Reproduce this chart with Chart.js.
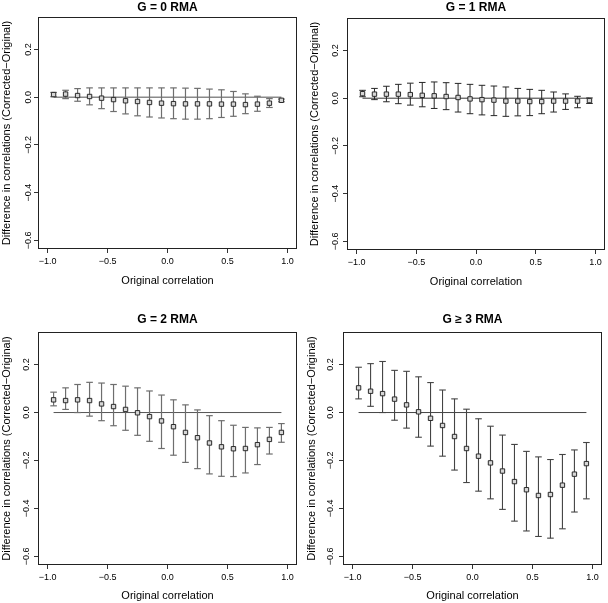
<!DOCTYPE html>
<html><head><meta charset="utf-8">
<script src="https://cdn.jsdelivr.net/npm/chart.js@4.4.1/dist/chart.umd.min.js"></script>
<style>
html,body{margin:0;padding:0;background:#fff;}
#wrap{position:relative;width:608px;height:603px;overflow:hidden;background:#fff;}
canvas{position:absolute;}
</style></head><body>
<div id="wrap">
<canvas id="c0" width="304" height="300" style="left:0px;top:0px"></canvas>
<canvas id="c1" width="304" height="300" style="left:304px;top:0px"></canvas>
<canvas id="c2" width="304" height="303" style="left:0px;top:300px"></canvas>
<canvas id="c3" width="304" height="303" style="left:304px;top:300px"></canvas>
</div>
<script>
// ---- data ----
const originalCorrelation = [-0.95,-0.85,-0.75,-0.65,-0.55,-0.45,-0.35,-0.25,-0.15,-0.05,0.05,0.15,0.25,0.35,0.45,0.55,0.65,0.75,0.85,0.95];
const xTickValues = [-1.0,-0.5,0.0,0.5,1.0];
const yTickValues = [-0.6,-0.4,-0.2,0.0,0.2];
const panelTitles = ["G = 0 RMA","G = 1 RMA","G = 2 RMA","G \u2265 3 RMA"];
const xAxisTitle = "Original correlation";
const yAxisTitle = "Difference in correlations (Corrected\u2212Original)";

const g0Mean  = [0.011,0.013,0.007,0.003,-0.004,-0.010,-0.015,-0.018,-0.022,-0.025,-0.027,-0.028,-0.028,-0.028,-0.029,-0.029,-0.031,-0.029,-0.025,-0.013];
const g0Upper = [0.020,0.029,0.036,0.039,0.039,0.039,0.039,0.039,0.039,0.039,0.039,0.038,0.037,0.034,0.031,0.024,0.014,0.004,-0.006,-0.008];
const g0Lower = [0.002,-0.006,-0.017,-0.032,-0.048,-0.060,-0.070,-0.078,-0.083,-0.087,-0.090,-0.092,-0.092,-0.090,-0.085,-0.080,-0.069,-0.059,-0.043,-0.019];

const g1Mean  = [0.019,0.017,0.017,0.017,0.015,0.012,0.010,0.007,0.003,-0.003,-0.006,-0.008,-0.012,-0.012,-0.014,-0.014,-0.012,-0.012,-0.012,-0.010];
const g1Upper = [0.033,0.041,0.050,0.058,0.063,0.066,0.068,0.065,0.062,0.058,0.054,0.051,0.047,0.041,0.037,0.033,0.026,0.018,0.008,0.001];
const g1Lower = [0.006,-0.006,-0.015,-0.023,-0.029,-0.036,-0.043,-0.048,-0.058,-0.065,-0.070,-0.073,-0.076,-0.074,-0.073,-0.065,-0.058,-0.047,-0.040,-0.022];

const g2Mean  = [0.053,0.050,0.053,0.050,0.036,0.025,0.013,-0.001,-0.017,-0.035,-0.059,-0.083,-0.105,-0.127,-0.143,-0.151,-0.150,-0.134,-0.112,-0.083];
const g2Upper = [0.085,0.103,0.117,0.126,0.123,0.117,0.110,0.103,0.090,0.073,0.053,0.032,0.011,-0.013,-0.034,-0.053,-0.062,-0.064,-0.062,-0.046];
const g2Lower = [0.028,0.013,0.000,-0.015,-0.034,-0.055,-0.074,-0.095,-0.120,-0.150,-0.178,-0.208,-0.234,-0.256,-0.266,-0.267,-0.252,-0.217,-0.173,-0.124];

const g3Mean  = [0.103,0.089,0.079,0.056,0.032,0.003,-0.024,-0.054,-0.100,-0.150,-0.182,-0.210,-0.244,-0.288,-0.322,-0.346,-0.342,-0.303,-0.257,-0.213];
const g3Upper = [0.189,0.204,0.213,0.176,0.172,0.149,0.125,0.094,0.057,0.014,-0.026,-0.057,-0.094,-0.133,-0.162,-0.185,-0.196,-0.175,-0.156,-0.125];
const g3Lower = [0.057,0.026,0.000,-0.032,-0.065,-0.103,-0.140,-0.182,-0.240,-0.292,-0.328,-0.360,-0.404,-0.453,-0.494,-0.517,-0.524,-0.485,-0.415,-0.360];

// ---- layout / style per panel ----
const FONT = "'Liberation Sans', Arial, Helvetica, sans-serif";
const panels = [
  {id:'c0', title:panelTitles[0], mean:g0Mean, lo:g0Lower, hi:g0Upper,
   w:304, h:300, area:{l:38,t:17,r:297,b:249}, titleTop:0, yTitlePad:0.4, xTitlePad:12.4, yLabelX:29,
   barColor:'#6e6e6e', barWidth:1.2, zeroColor:'#8a8a8a', zeroWidth:1.5},
  {id:'c1', title:panelTitles[1], mean:g1Mean, lo:g1Lower, hi:g1Upper,
   w:304, h:300, area:{l:43,t:18,r:301,b:250}, titleTop:0, yTitlePad:3.9, xTitlePad:11.4, yLabelX:32,
   barColor:'#262626', barWidth:1.0, zeroColor:'#333333', zeroWidth:1.0},
  {id:'c2', title:panelTitles[2], mean:g2Mean, lo:g2Lower, hi:g2Upper,
   w:304, h:303, area:{l:38,t:32,r:297,b:265}, titleTop:12.8, yTitlePad:0.4, xTitlePad:0.4, yLabelX:27,
   barColor:'#6e6e6e', barWidth:1.2, zeroColor:'#555555', zeroWidth:1.0},
  {id:'c3', title:panelTitles[3], mean:g3Mean, lo:g3Lower, hi:g3Upper,
   w:304, h:303, area:{l:39,t:32,r:298,b:265}, titleTop:12.8, yTitlePad:1.4, xTitlePad:0.4, yLabelX:27,
   barColor:'#444444', barWidth:1.1, zeroColor:'#444444', zeroWidth:1.0}
];

const fmt = v => { const s = Math.abs(v).toFixed(1); return (v < -1e-9 ? '\u2212' : '') + s; };

const boxPlugin = {
  id: 'plotBox',
  beforeDraw(chart) {
    const p = chart.options.plugins.plotBox;
    const items = chart.scales.y.getLabelItems(chart.chartArea);
    items.forEach(it => { it.options.translation[0] = p.labelX; it.options.textAlign = 'center'; });
  },
  afterDraw(chart) {
    const a = chart.chartArea, ctx = chart.ctx;
    ctx.save();
    ctx.strokeStyle = '#222';
    ctx.lineWidth = 1;
    ctx.strokeRect(Math.round(a.left)+0.5, Math.round(a.top)+0.5, Math.round(a.right-a.left)-1, Math.round(a.bottom-a.top)-1);
    ctx.restore();
  }
};

panels.forEach(p => {
  const xs = originalCorrelation;
  const titleLine = 12 * 1.2;
  const titleBottom = p.area.t - p.titleTop - titleLine;
  new Chart(document.getElementById(p.id), {
    type: 'scatter',
    data: {
      datasets: [
        { type:'scatter', label:'mean', data: xs.map((x,i)=>({x:x, y:p.mean[i]})),
          pointStyle:'rect', pointRadius:3.1, borderWidth:1, borderColor:'#2a2a2a', backgroundColor:'#d6d6d6' },
        { type:'scatter', label:'caps',
          data: xs.map((x,i)=>({x:x, y:p.hi[i]})).concat(xs.map((x,i)=>({x:x, y:p.lo[i]}))),
          pointStyle:'line', pointRadius:3.3, borderWidth:p.barWidth, borderColor:p.barColor, backgroundColor:p.barColor },
        { type:'bar', label:'range', data: xs.map((x,i)=>({x:x, y:[p.lo[i], p.hi[i]]})),
          barThickness:p.barWidth, backgroundColor:p.barColor, borderWidth:0, inflateAmount:0 },
        { type:'line', label:'zero', data:[{x:xs[0], y:0},{x:xs[xs.length-1], y:0}],
          borderColor:p.zeroColor, borderWidth:p.zeroWidth, pointRadius:0, fill:false }
      ]
    },
    options: {
      responsive:false, animation:false, devicePixelRatio:1, events:[],
      layout:{ autoPadding:false, padding:{left:0, top:0, right:p.w - p.area.r, bottom:0} },
      plugins:{
        plotBox:{ labelX:p.yLabelX },
        legend:{display:false}, tooltip:{enabled:false},
        title:{ display:true, text:p.title, fullSize:false, color:'#000',
          font:{family:FONT, size:12, weight:'bold', lineHeight:1.2},
          padding:{top:p.titleTop, bottom:titleBottom} }
      },
      scales:{
        x:{ type:'linear', min:-1.08, max:1.08, offset:false, bounds:'data',
          grid:{ display:true, drawOnChartArea:false, drawTicks:true, tickLength:4, color:'#333', offset:false },
          border:{ display:false },
          afterBuildTicks: s => { s.ticks = xTickValues.map(v=>({value:v})); },
          afterFit: s => { s.height = p.h - p.area.b; },
          ticks:{ callback: v => fmt(v), color:'#000', padding:3.6, maxRotation:0, minRotation:0, autoSkip:false,
            font:{family:FONT, size:9, lineHeight:1.2} },
          title:{ display:true, text:xAxisTitle, color:'#000', font:{family:FONT, size:11, lineHeight:1.2},
            padding:{top:0, bottom:p.xTitlePad} }
        },
        y:{ type:'linear', min:-0.636, max:0.336, bounds:'data',
          grid:{ display:true, drawOnChartArea:false, drawTicks:true, tickLength:4, color:'#333' },
          border:{ display:false },
          afterBuildTicks: s => { s.ticks = yTickValues.map(v=>({value:v})); },
          afterFit: s => { s.width = p.area.l; },
          ticks:{ callback: v => fmt(v), color:'#000', padding:0, minRotation:90, maxRotation:90,
            crossAlign:'center', autoSkip:false, font:{family:FONT, size:9, lineHeight:1.2} },
          title:{ display:true, text:yAxisTitle, color:'#000', font:{family:FONT, size:11, lineHeight:1.2},
            padding:{top:p.yTitlePad, bottom:0} }
        }
      }
    },
    plugins:[boxPlugin]
  });
});
</script>
</body></html>
